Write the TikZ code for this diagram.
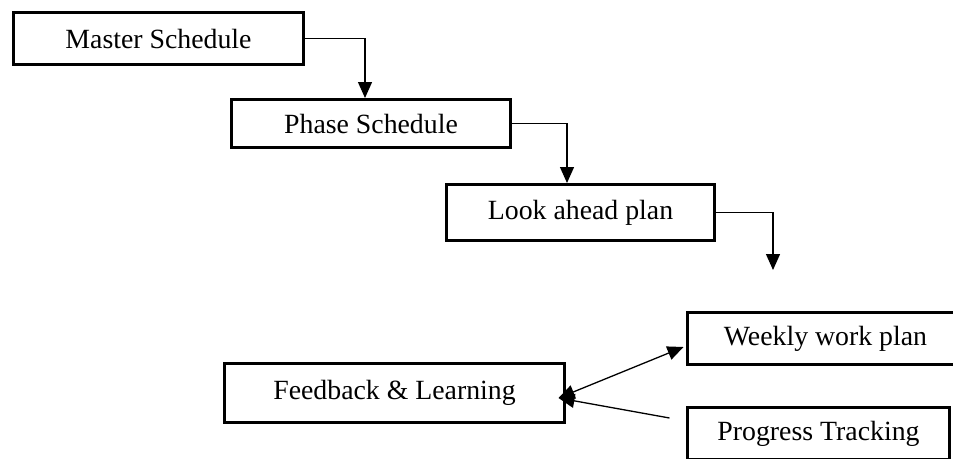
\documentclass[tikz,border=0pt]{standalone}
\usepackage{fontspec}
\setmainfont{Liberation Serif}
\usetikzlibrary{arrows.meta}
\begin{document}
\begin{tikzpicture}[x=1pt,y=-1pt,
  box/.style={draw=black,line width=3pt,rectangle,inner sep=0pt,
    font=\fontsize{27.8}{33}\selectfont},
  tip/.style={Triangle[length=16pt,width=14pt]},
  conn/.style={line width=1.3pt,-{Triangle[length=16pt,width=14pt]}},
  dconn/.style={line width=1.3pt,{Triangle[length=16pt,width=14pt]}-{Triangle[length=16pt,width=14pt]}}]
\useasboundingbox[fill=white] (0,0) rectangle (953,458);
\node[box,minimum width=290pt,minimum height=52pt] (M) at (158.5,38.5) {Master Schedule};
\node[box,minimum width=279pt,minimum height=48pt] (P) at (371,123.5) {Phase Schedule};
\node[box,minimum width=268pt,minimum height=56pt] (L) at (580.5,212.5) {Look ahead plan};
\node[box,minimum width=340pt,minimum height=59pt] (F) at (394.5,393) {Feedback \& Learning};
\node[box,minimum width=276pt,minimum height=52pt] (W) at (825.5,338.5) {Weekly work plan};
\node[box,minimum width=262pt,minimum height=52pt] (T) at (818.5,433.5) {Progress Tracking};
\coordinate (E) at (773,270);
\draw[conn] (M.east) -| ([xshift=-6pt]P.north);
\draw[conn] (P.east) -| ([xshift=-13.5pt]L.north);
\draw[conn] (L.east) -| (E);
\draw[dconn] ([xshift=-7.5pt,yshift=-5pt]F.east) -- ([xshift=-2.5pt,yshift=-8.5pt]W.west);
\draw[conn] ([xshift=-16.5pt,yshift=15.5pt]T.west) -- ([xshift=-7.5pt,yshift=-5pt]F.east);
\end{tikzpicture}
\end{document}
